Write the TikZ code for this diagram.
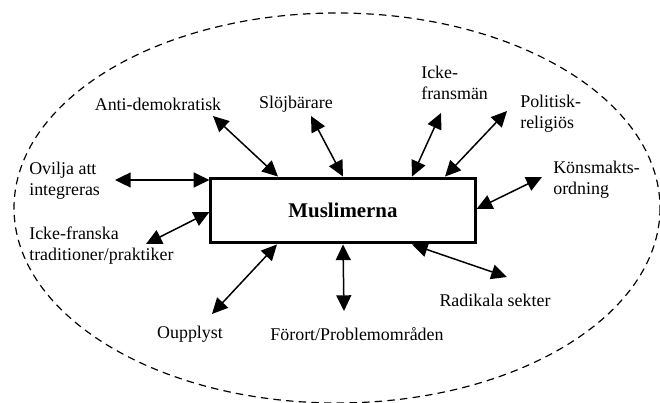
\documentclass[tikz,border=0pt]{standalone}
\usepackage{fontspec}
\setmainfont{Liberation Serif}
\usetikzlibrary{arrows.meta}
\begin{document}
\begin{tikzpicture}[x=0.67pt,y=-0.67pt]
  \tikzstyle{factor}=[align=left, inner sep=0pt, font=\fontsize{12}{14}\selectfont]
  \tikzstyle{core}=[draw=black, line width=2pt, minimum width=177pt, minimum height=43.5pt, font=\fontsize{14}{17}\selectfont\bfseries]
  \tikzstyle{link}=[line width=1pt, {Triangle[length=10.5pt,width=10pt]}-{Triangle[length=10.5pt,width=10pt]}]
  \useasboundingbox (0,0) rectangle (660,403);
  \draw[dashed, line width=0.8pt, dash pattern=on 5pt off 3.5pt] (337,208) ellipse [x radius=323, y radius=195];
  \node[core] (box) at (343,210.5) {Muslimerna};
  % labels
  \node[factor, anchor=west] (ovilja) at (29,181) {Ovilja att\\integreras};
  \node[factor] (anti) at (158,104) {Anti-demokratisk};
  \node[factor] (slojb) at (296,104) {Slöjbärare};
  \node[factor, anchor=west] (fransman) at (421,83) {Icke-\\fransmän};
  \node[factor, anchor=west] (politisk) at (520,114) {Politisk-\\religiös};
  \node[factor, anchor=west] (kons) at (553,180) {Könsmakts-\\ordning};
  \node[factor, anchor=west] (trad) at (29,246) {Icke-franska\\traditioner/praktiker};
  \node[factor] (oupplyst) at (190,334) {Oupplyst};
  \node[factor] (forort) at (357,334) {Förort/Problemområden};
  \node[factor] (radikal) at (495,300) {Radikala sekter};
  % arrow ends
  \coordinate (e-ovilja) at (115,180);
  \coordinate (e-anti) at (213,116);
  \coordinate (e-slojb) at (311,116);
  \coordinate (e-fransman) at (441,113);
  \coordinate (e-politisk) at (507,111);
  \coordinate (e-kons) at (542,177);
  \coordinate (e-trad) at (146,244);
  \coordinate (e-oupplyst) at (212,314);
  \coordinate (e-forort) at (344,311);
  \coordinate (e-radikal) at (507,277);
  \draw[link] (e-ovilja) -- (box.west |- 0,180);
  \draw[link] (e-anti) -- (278,0 |- box.north);
  \draw[link] (e-slojb) -- (343,0 |- box.north);
  \draw[link] (e-fransman) -- (412,0 |- box.north);
  \draw[link] (e-politisk) -- (445,0 |- box.north);
  \draw[link] (e-kons) -- (box.east |- 0,209);
  \draw[link] (e-trad) -- (box.west |- 0,212);
  \draw[link] (e-oupplyst) -- (277,0 |- box.south);
  \draw[link] (e-forort) -- (box.south);
  \draw[link] (e-radikal) -- (412,0 |- box.south);
\end{tikzpicture}
\end{document}
